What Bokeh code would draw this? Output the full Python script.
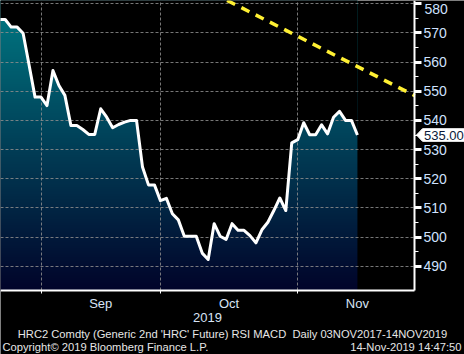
import numpy as np
from bokeh.plotting import figure
from bokeh.models import Range1d, FixedTicker
from bokeh.core.properties import value
from bokeh.embed import file_html
from bokeh.resources import INLINE

# ---- data (trading-day index, HRC2 close) ----
day_index = list(range(-1, 60))  # 21-Aug-2019 .. 14-Nov-2019 (trading days)
prices = [574.6, 574.6, 572.0, 572.0, 569.9, 559.0, 548.0, 548.0, 545.1, 557.1,
          552.0, 548.6, 538.3, 538.3, 536.9, 535.2, 535.2, 544.0, 541.1, 537.5,
          538.6, 539.4, 540.0, 540.0, 524.0, 517.9, 517.9, 512.5, 513.3, 508.0,
          505.9, 500.3, 500.3, 500.3, 494.5, 492.3, 504.6, 500.3, 499.2, 504.6,
          502.3, 502.3, 500.5, 498.0, 502.5, 505.1, 509.1, 513.4, 509.1, 532.3,
          533.4, 539.2, 535.1, 535.1, 538.5, 535.4, 541.1, 543.1, 540.0, 540.0,
          535.0]
trend_x = [30, 68.6]
trend_y = [588.6, 548.5]
month_bounds = [6, 26, 49]          # last trading day of Aug, Sep, Oct
month_mid = [16, 37.5, 59]
month_labels = ["Sep", "Oct", "Nov"]
y_ticks = [490, 500, 510, 520, 530, 540, 550, 560, 570, 580]
last_price = 535.00
footer_title = "HRC2 Comdty (Generic 2nd 'HRC' Future) RSI MACD\u00a0\u00a0Daily 03NOV2017-14NOV2019"
footer_copy = "Copyright\u00a9 2019 Bloomberg Finance L.P."
footer_time = "14-Nov-2019 14:47:50"

# ---- geometry (pixels -> data) ----
W, H = 464, 354
AX_X, AX_Y = 414, 290          # right axis line / bottom axis line in pixels
SX, SY = 5.97, 2.916           # px per trading day / px per $ unit
XL = -0.787                    # data x at left canvas edge
YT = 581.13                    # data y at top canvas edge

def X(px):
    return XL + px / SX

def Y(py):
    return YT - py / SY

p = figure(width=W, height=H, output_backend="svg", toolbar_location=None,
           x_range=Range1d(X(0), X(W)), y_range=Range1d(Y(H), Y(0)),
           y_axis_location="right", min_border_left=0, min_border_top=0,
           min_border_right=0, min_border_bottom=0,
           background_fill_color="black", border_fill_color="black",
           outline_line_color=None)

# gradient fill under the line (image + black mask above the line)
n = 256
t = np.linspace(0, 1, n)  # 0 bottom -> 1 top
bot = np.array([2, 4, 42])
top = np.array([0, 122, 132])
cols = (bot[None, :] * (1 - t[:, None]) + top[None, :] * t[:, None]).astype(np.uint8)
img = np.empty((n, 2), dtype=np.uint32)
view = img.view(dtype=np.uint8).reshape((n, 2, 4))
for k in range(2):
    view[:, k, 0] = cols[:, 0]
    view[:, k, 1] = cols[:, 1]
    view[:, k, 2] = cols[:, 2]
    view[:, k, 3] = 255
p.image_rgba(image=[img], x=day_index[0], y=Y(AX_Y), dw=day_index[-1] - day_index[0],
             dh=Y(0) - Y(AX_Y), level="image")
p.varea(x=day_index, y1=prices, y2=[Y(0) + 20] * len(prices), fill_color="black",
        level="image")

# grids
p.xgrid.ticker = FixedTicker(ticks=month_bounds)
p.ygrid.ticker = FixedTicker(ticks=y_ticks)
for g in (p.xgrid, p.ygrid):
    g.grid_line_color = "#8c8c8c"
    g.grid_line_dash = "3 2"
    g.grid_line_width = 1
    g.grid_line_alpha = 0.85
try:
    p.xgrid.cross_bounds = (Y(AX_Y), Y(0))
    p.ygrid.cross_bounds = (X(0), X(AX_X))
except Exception:
    p.quad(left=[X(AX_X)], right=[X(W) + 1], bottom=[Y(H) - 1], top=[Y(0) + 1],
           fill_color="black", line_color=None)
    p.quad(left=[X(0) - 1], right=[X(W) + 1], bottom=[Y(H) - 1], top=[Y(AX_Y)],
           fill_color="black", line_color=None)

# price line
p.line(day_index, prices, line_color="white", line_width=3, line_join="round")
# trend
p.line(trend_x, trend_y, line_color="#fff033", line_width=3.5, line_dash="9 7")

FONT = "Liberation Sans"
YLAB = "#cfe2ff"

# y axis (right, fixed at the right edge of the plot area)
ya = p.yaxis[0]
ya.fixed_location = X(AX_X)
ya.bounds = (Y(AX_Y), Y(0))
ya.ticker = FixedTicker(ticks=y_ticks, minor_ticks=[v + 5 for v in [485] + y_ticks[:-1]])
ya.major_label_overrides = {y_ticks[-1]: ""}   # top label drawn nudged down below
ya.axis_line_color = "white"
ya.axis_line_width = 2
ya.major_tick_line_color = "white"
ya.major_tick_line_width = 3
ya.major_tick_out = 7
ya.major_tick_in = 0
ya.minor_tick_line_color = "white"
ya.minor_tick_line_width = 1
ya.minor_tick_out = 4
ya.minor_tick_in = 0
ya.major_label_text_color = YLAB
ya.major_label_text_font = FONT
ya.major_label_text_font_size = "14px"
ya.major_label_standoff = 2
# top tick label, kept inside the window as in the original
p.text(x=[X(AX_X)], y=[y_ticks[-1]], text=[str(y_ticks[-1])], x_offset=10, y_offset=5,
       text_color=YLAB, text_font=value(FONT), text_font_size="14px",
       text_baseline="middle", text_align="left")

# x axis (month labels)
xa = p.xaxis[0]
xa.fixed_location = Y(AX_Y)
xa.bounds = (X(0), X(AX_X))
xa.ticker = FixedTicker(ticks=month_mid, minor_ticks=month_bounds)
xa.major_label_overrides = {m: l for m, l in zip(month_mid, month_labels)}
xa.axis_line_color = "white"
xa.axis_line_width = 2
xa.major_tick_out = 0
xa.major_tick_in = 0
xa.major_tick_line_color = None
xa.minor_tick_line_color = "white"
xa.minor_tick_out = 3
xa.minor_tick_in = 0
xa.major_label_text_color = "#d8e4f5"
xa.major_label_text_font = FONT
xa.major_label_text_font_size = "13px"
xa.major_label_standoff = 2
xa.axis_label = "2019"
xa.axis_label_text_color = "#d8e4f5"
xa.axis_label_text_font = FONT
xa.axis_label_text_font_size = "13px"
xa.axis_label_text_font_style = "normal"
xa.axis_label_standoff = -1

# last-price tag
p.patch(x=[X(416), X(422), X(W + 2), X(W + 2), X(422)],
        y=[last_price, last_price + 6.3 / SY, last_price + 6.3 / SY,
           last_price - 6.3 / SY, last_price - 6.3 / SY],
        fill_color="white", line_color="white", line_width=1)
p.text(x=[X(423.5)], y=[last_price], text=[f"{last_price:.2f}"],
       text_color="#0a1a3a", text_font=value(FONT), text_font_size="13px",
       text_baseline="middle", text_align="left")

# footer texts
p.text(x=[X(232)], y=[Y(333)], text=[footer_title], text_color="#e6e6e6",
       text_font=value(FONT), text_font_size="11.2px", text_baseline="middle",
       text_align="center")
p.text(x=[X(2)], y=[Y(346)], text=[footer_copy], text_color="#e6e6e6",
       text_font=value(FONT), text_font_size="11.2px", text_baseline="middle",
       text_align="left")
p.text(x=[X(461)], y=[Y(346)], text=[footer_time], text_color="#e6e6e6",
       text_font=value(FONT), text_font_size="11.2px", text_baseline="middle",
       text_align="right")

open("out.html", "w").write(file_html(p, INLINE))
